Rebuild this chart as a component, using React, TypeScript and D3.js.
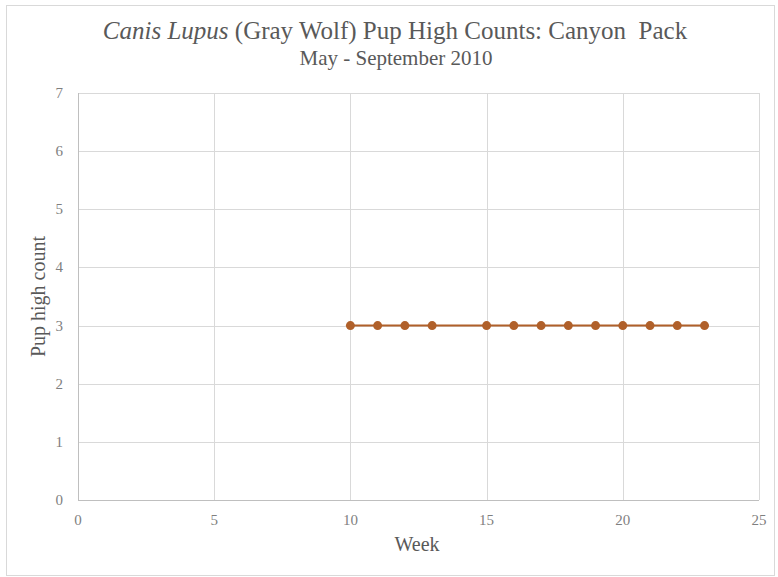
import React from "react";
import * as d3 from "d3";

// Weekly pup high counts for the Canyon Pack, May - September 2010
const weeks: number[] = [10, 11, 12, 13, 15, 16, 17, 18, 19, 20, 21, 22, 23];
const pupCounts: number[] = [3, 3, 3, 3, 3, 3, 3, 3, 3, 3, 3, 3, 3];
const xTicks: number[] = [0, 5, 10, 15, 20, 25];
const yTicks: number[] = [0, 1, 2, 3, 4, 5, 6, 7];

const W = 778;
const H = 577;
const plot = { left: 78, right: 759, top: 93, bottom: 500 };
const serifStyle = { fontFamily: "'Liberation Serif', 'Times New Roman', serif", whiteSpace: "pre" as const };
const seriesColor = "#b0602a";
const titleColor = "#595959";
const tickColor = "#7f7f7f";

export default function App() {
  const x = d3.scaleLinear().domain([0, 25]).range([plot.left, plot.right]);
  const y = d3.scaleLinear().domain([0, 7]).range([plot.bottom, plot.top]);
  const points = weeks.map((w, i) => [w, pupCounts[i]] as [number, number]);
  const line = d3
    .line<[number, number]>()
    .x((d) => x(d[0]))
    .y((d) => y(d[1]));

  return (
    <svg
      width={W}
      height={H}
      style={{ position: "absolute", left: 0, top: 0, background: "#fff" }}
    >
      <rect x={6.5} y={5.5} width={768} height={570} fill="#fff" stroke="#d9d9d9" strokeWidth={1} />

      <text x={395} y={39} textAnchor="middle" fontSize={25} fill={titleColor} style={serifStyle}>
        <tspan fontStyle="italic">Canis Lupus</tspan>
        <tspan>{" (Gray Wolf) Pup High Counts: Canyon  Pack"}</tspan>
      </text>
      <text x={396} y={65} textAnchor="middle" fontSize={21} fill={titleColor} style={serifStyle}>
        May - September 2010
      </text>

      {/* gridlines */}
      {yTicks.map((t) => (
        <line
          key={"gy" + t}
          x1={plot.left}
          x2={plot.right}
          y1={Math.round(y(t)) + 0.5}
          y2={Math.round(y(t)) + 0.5}
          stroke={t === 0 ? "#bfbfbf" : "#d9d9d9"}
          strokeWidth={1}
        />
      ))}
      {xTicks.map((t) => (
        <line
          key={"gx" + t}
          x1={Math.round(x(t)) + 0.5}
          x2={Math.round(x(t)) + 0.5}
          y1={plot.top}
          y2={plot.bottom}
          stroke={t === 0 ? "#bfbfbf" : "#d9d9d9"}
          strokeWidth={1}
        />
      ))}

      {/* tick labels */}
      {yTicks.map((t) => (
        <text
          key={"ly" + t}
          x={plot.left - 15}
          y={y(t) + 5}
          textAnchor="end"
          fontSize={15}
          fill={tickColor}
          style={serifStyle}
        >
          {t}
        </text>
      ))}
      {xTicks.map((t) => (
        <text
          key={"lx" + t}
          x={x(t)}
          y={plot.bottom + 25}
          textAnchor="middle"
          fontSize={15}
          fill={tickColor}
          style={serifStyle}
        >
          {t}
        </text>
      ))}

      {/* axis titles */}
      <text x={417} y={551} textAnchor="middle" fontSize={20} fill={titleColor} style={serifStyle}>
        Week
      </text>
      <text
        transform={`translate(45, ${(plot.top + plot.bottom) / 2}) rotate(-90)`}
        textAnchor="middle"
        fontSize={20}
        fill={titleColor}
        style={serifStyle}
      >
        Pup high count
      </text>

      {/* series */}
      <path d={line(points) || ""} fill="none" stroke={seriesColor} strokeWidth={2} />
      {points.map((p, i) => (
        <circle key={"p" + i} cx={x(p[0])} cy={y(p[1])} r={4.5} fill={seriesColor} />
      ))}
    </svg>
  );
}
